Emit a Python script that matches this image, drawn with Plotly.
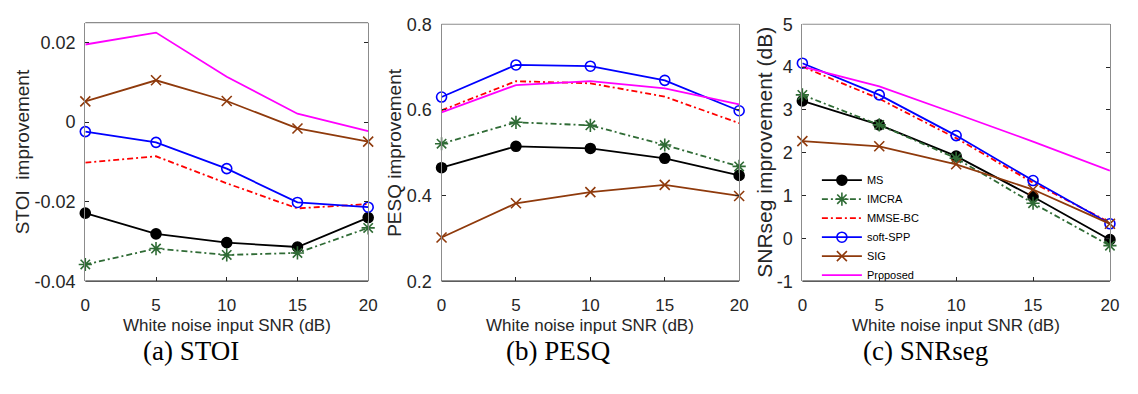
import plotly.graph_objects as go

# Input SNR levels (dB)
snr = [0, 5, 10, 15, 20]

methods = ["MS", "IMCRA", "MMSE-BC", "soft-SPP", "SIG", "Proposed"]

# STOI improvement per method
stoi_ms = [-0.0229, -0.0281, -0.0303, -0.0314, -0.0240]
stoi_imcra = [-0.0358, -0.0318, -0.0334, -0.0329, -0.0266]
stoi_mmse = [-0.0102, -0.0086, -0.0154, -0.0217, -0.0206]
stoi_spp = [-0.0024, -0.0051, -0.0117, -0.0202, -0.0214]
stoi_sig = [0.0052, 0.0105, 0.0053, -0.0016, -0.0049]
stoi_prop = [0.0195, 0.0225, 0.0114, 0.0021, -0.0023]

# PESQ improvement per method
pesq_ms = [0.465, 0.515, 0.510, 0.487, 0.447]
pesq_imcra = [0.521, 0.571, 0.564, 0.518, 0.468]
pesq_mmse = [0.599, 0.667, 0.662, 0.631, 0.569]
pesq_spp = [0.630, 0.705, 0.702, 0.669, 0.598]
pesq_sig = [0.302, 0.382, 0.408, 0.425, 0.399]
pesq_prop = [0.594, 0.658, 0.667, 0.650, 0.613]

# Segmental SNR improvement (dB) per method
seg_ms = [3.21, 2.65, 1.92, 0.97, -0.03]
seg_imcra = [3.35, 2.65, 1.87, 0.82, -0.17]
seg_mmse = [4.01, 3.26, 2.34, 1.30, 0.37]
seg_spp = [4.09, 3.35, 2.40, 1.35, 0.34]
seg_sig = [2.27, 2.15, 1.73, 1.14, 0.34]
seg_prop = [4.01, 3.55, 2.91, 2.26, 1.58]

stoi_ticks = [-0.04, -0.02, 0, 0.02]
stoi_ticklabels = ["-0.04", "-0.02", "0", "0.02"]
pesq_ticks = [0.2, 0.4, 0.6, 0.8]
pesq_ticklabels = ["0.2", "0.4", "0.6", "0.8"]
seg_ticks = [-1, 0, 1, 2, 3, 4, 5]
seg_ticklabels = ["-1", "0", "1", "2", "3", "4", "5"]

x_title = "White noise input SNR (dB)"
y_titles = ["STOI  improvement", "PESQ improvement", "SNRseg improvement (dB)"]
captions = ["(a) STOI", "(b) PESQ", "(c) SNRseg"]

styles = {
    "MS": dict(color="#000000", dash="solid", symbol="circle", msize=10),
    "IMCRA": dict(color="#2f6b35", dash="6px,3px,2px,3px", symbol="asterisk-open", msize=11),
    "MMSE-BC": dict(color="#ff0000", dash="6px,3px,2px,3px", symbol=None, msize=0),
    "soft-SPP": dict(color="#0000ff", dash="solid", symbol="circle-open", msize=10),
    "SIG": dict(color="#8f3a0c", dash="solid", symbol="x-thin-open", msize=10),
    "Proposed": dict(color="#ff00ff", dash="solid", symbol=None, msize=0),
}

panels = [
    [stoi_ms, stoi_imcra, stoi_mmse, stoi_spp, stoi_sig, stoi_prop],
    [pesq_ms, pesq_imcra, pesq_mmse, pesq_spp, pesq_sig, pesq_prop],
    [seg_ms, seg_imcra, seg_mmse, seg_spp, seg_sig, seg_prop],
]

W, H = 1138, 394
# axes boxes in pixels: left, right, top, bottom
boxes = [(81.3, 367.7, 13.3, 285.7), (442.0, 743.3, 15.0, 285.7), (807.3, 1118.7, 15.0, 285.7)]
yranges = [[-0.04, 0.025], [0.2, 0.8], [-1, 5]]
yticks = [(stoi_ticks, stoi_ticklabels), (pesq_ticks, pesq_ticklabels), (seg_ticks, seg_ticklabels)]

fig = go.Figure()
font_sans = "Liberation Sans, Arial, sans-serif"
dark = "#262626"
gray = "#8c8c8c"

for p, series in enumerate(panels):
    xa = "x" if p == 0 else f"x{p + 1}"
    ya = "y" if p == 0 else f"y{p + 1}"
    for name, vals in zip(methods, series):
        st = styles[name]
        mode = "lines+markers" if st["symbol"] else "lines"
        marker = dict(size=st["msize"], symbol=st["symbol"], color=st["color"],
                      line=dict(color=st["color"], width=1.6)) if st["symbol"] else None
        fig.add_trace(go.Scatter(
            x=snr, y=vals, name=name, mode=mode,
            line=dict(color=st["color"], width=1.8, dash=st["dash"]),
            marker=marker, xaxis=xa, yaxis=ya,
            showlegend=(p == 2), cliponaxis=False,
        ))

    l, r, t, b = boxes[p]
    dom_x = [l / W, r / W]
    dom_y = [1 - b / H, 1 - t / H]
    xkey = "xaxis" if p == 0 else f"xaxis{p + 1}"
    ykey = "yaxis" if p == 0 else f"yaxis{p + 1}"
    fig.layout[xkey] = dict(
        domain=dom_x, range=[0, 20], tickvals=snr, ticktext=[str(v) for v in snr],
        ticks="inside", ticklen=4, tickcolor=dark, showline=False, mirror=False,
        showgrid=False, zeroline=False, anchor=ya, ticklabelstandoff=12,
        tickfont=dict(family=font_sans, size=17, color=dark),
    )
    fig.layout[ykey] = dict(
        domain=dom_y, range=yranges[p], tickvals=yticks[p][0], ticktext=yticks[p][1],
        ticks="inside", ticklen=4, tickcolor=dark, showline=True, linecolor=gray,
        linewidth=1.2, mirror="ticks", showgrid=False, zeroline=False, anchor=xa,
        ticklabelstandoff=5, tickfont=dict(family=font_sans, size=18, color=dark),
    )
    # box: gray top edge, dark bottom edge
    fig.add_shape(type="line", xref="paper", yref="paper", x0=dom_x[0], x1=dom_x[1],
                  y0=dom_y[1], y1=dom_y[1], line=dict(color=gray, width=1.2), layer="above")
    fig.add_shape(type="line", xref="paper", yref="paper", x0=dom_x[0], x1=dom_x[1],
                  y0=dom_y[0], y1=dom_y[0], line=dict(color=dark, width=1.2), layer="above")

    cx = (l + r) / 2
    fig.add_annotation(text=x_title, xref="paper", yref="paper", x=cx / W, y=1 - 332 / H,
                       showarrow=False, xanchor="center", yanchor="middle", borderpad=0,
                       font=dict(family=font_sans, size=17, color=dark))
    ty_x = [18.5, 395.0, 769.5][p]
    fig.add_annotation(text=y_titles[p], xref="paper", yref="paper", x=ty_x / W,
                       y=1 - ((t + b) / 2) / H, textangle=-90, showarrow=False,
                       xanchor="center", yanchor="middle",
                       font=dict(family=font_sans, size=[19, 19, 21][p], color=dark))
    cap_x = [188, 560, 932][p]
    fig.add_annotation(text=captions[p], xref="paper", yref="paper", x=cap_x / W,
                       y=1 - 359 / H, showarrow=False, xanchor="center", yanchor="middle",
                       borderpad=0,
                       font=dict(family="Liberation Serif, Times New Roman, serif", size=27,
                                 color="#000000"))

fig.update_layout(
    width=W, height=H, margin=dict(l=0, r=0, t=0, b=0),
    paper_bgcolor="white", plot_bgcolor="white",
    legend=dict(x=822 / W, y=1 - 164 / H, xanchor="left", yanchor="top",
                bgcolor="rgba(255,255,255,0)", borderwidth=0,
                font=dict(family=font_sans, size=11, color="#000000"),
                itemwidth=40, tracegroupgap=0),
)

fig.write_html("out.html")
